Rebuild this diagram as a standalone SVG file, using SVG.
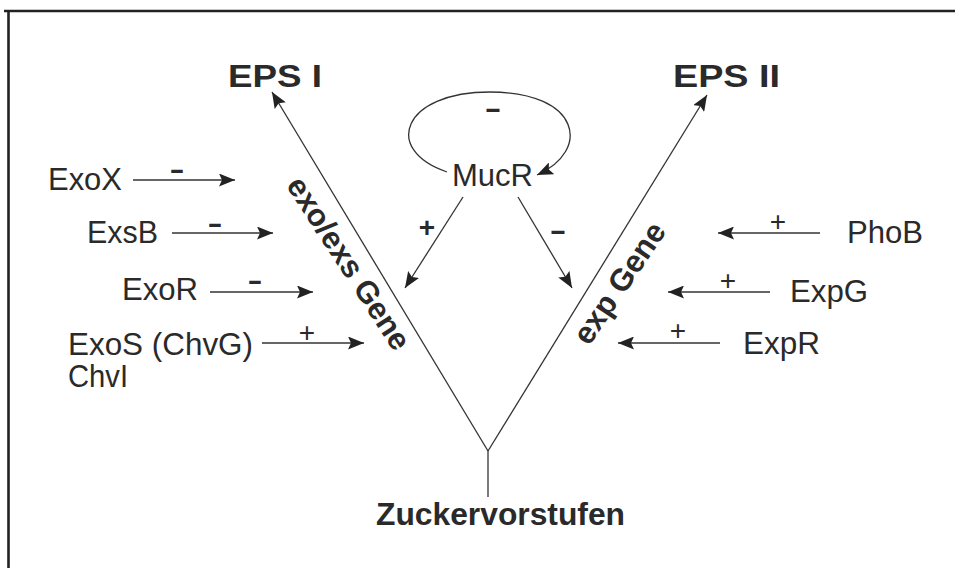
<svg xmlns="http://www.w3.org/2000/svg" width="955" height="568" viewBox="0 0 955 568">
<defs>
<style>
.lbl{font-family:"Liberation Sans",Arial,sans-serif;font-size:31px;fill:#2a2a2a}
.bold{font-weight:bold}
.sign{font-family:"Liberation Sans",Arial,sans-serif;font-size:28px;fill:#2a2a2a;text-anchor:middle}
.edge{fill:none;stroke:#333;stroke-width:1.3}
</style>
<marker id="ah" markerUnits="userSpaceOnUse" markerWidth="17" markerHeight="13" refX="16" refY="6.5" orient="auto">
<path d="M0,0 L16,6.5 L0,13 L3,6.5 Z" fill="#222"/>
</marker>
</defs>
<rect width="955" height="568" fill="#fff"/>
<path d="M4,11 H955 M8.5,11 V568" fill="none" stroke="#222" stroke-width="2.6"/>

<g id="eps1"><text class="lbl bold" x="228" y="87" font-size="33" textLength="94" lengthAdjust="spacingAndGlyphs">EPS I</text></g>
<g id="eps2"><text class="lbl bold" x="673" y="87" font-size="33" textLength="107" lengthAdjust="spacingAndGlyphs">EPS II</text></g>
<g id="mucr"><text class="lbl" x="452" y="186" textLength="81" lengthAdjust="spacingAndGlyphs">MucR</text></g>
<g id="exox"><text class="lbl" x="48" y="190" textLength="74" lengthAdjust="spacingAndGlyphs">ExoX</text></g>
<g id="exsb"><text class="lbl" x="87" y="243" textLength="71" lengthAdjust="spacingAndGlyphs">ExsB</text></g>
<g id="exor"><text class="lbl" x="122" y="300" textLength="76" lengthAdjust="spacingAndGlyphs">ExoR</text></g>
<g id="exos"><text class="lbl" x="68" y="355" textLength="185" lengthAdjust="spacingAndGlyphs">ExoS (ChvG)</text>
<text class="lbl" x="68" y="387" textLength="60" lengthAdjust="spacingAndGlyphs">ChvI</text></g>
<g id="phob"><text class="lbl" x="847" y="243" textLength="76" lengthAdjust="spacingAndGlyphs">PhoB</text></g>
<g id="expg"><text class="lbl" x="790" y="302" textLength="78" lengthAdjust="spacingAndGlyphs">ExpG</text></g>
<g id="expr"><text class="lbl" x="743" y="354" textLength="77" lengthAdjust="spacingAndGlyphs">ExpR</text></g>
<g id="zucker"><text class="lbl bold" x="376" y="525" textLength="249" lengthAdjust="spacingAndGlyphs">Zuckervorstufen</text></g>

<g id="connectors">
<path class="edge" d="M488,451 L272,92" marker-end="url(#ah)"/>
<path class="edge" d="M488,451 L707,95" marker-end="url(#ah)"/>
<path class="edge" d="M488,451 V497"/>
<path class="edge" d="M447,172 C382,150 402,92 490,92 C580,92 592,150 537,175" marker-end="url(#ah)"/>
<path class="edge" d="M463,197 L405,288" marker-end="url(#ah)"/>
<path class="edge" d="M518,197 L572,288" marker-end="url(#ah)"/>
<path class="edge" d="M133,180 H235" marker-end="url(#ah)"/>
<path class="edge" d="M172,233 H273" marker-end="url(#ah)"/>
<path class="edge" d="M210,292 H313" marker-end="url(#ah)"/>
<path class="edge" d="M262,343 H364" marker-end="url(#ah)"/>
<path class="edge" d="M820,233 H718" marker-end="url(#ah)"/>
<path class="edge" d="M770,292 H668" marker-end="url(#ah)"/>
<path class="edge" d="M720,343 H618" marker-end="url(#ah)"/>

<text class="lbl bold" transform="translate(340,269) rotate(57)" text-anchor="middle" font-size="29">exo/exs Gene</text>
<text class="lbl bold" transform="translate(628,289) rotate(-56)" text-anchor="middle" font-size="29">exp Gene</text>

<text class="sign bold" x="177" y="179" textLength="15" lengthAdjust="spacingAndGlyphs">-</text>
<text class="sign bold" x="215" y="233" textLength="15" lengthAdjust="spacingAndGlyphs">-</text>
<text class="sign bold" x="255" y="290" textLength="15" lengthAdjust="spacingAndGlyphs">-</text>
<text class="sign" x="307" y="342">+</text>
<text class="sign" x="778" y="231">+</text>
<text class="sign" x="728" y="290">+</text>
<text class="sign" x="678" y="340">+</text>
<text class="sign bold" x="427" y="237" font-size="30">+</text>
<text class="sign bold" x="558" y="240" font-size="32" textLength="17" lengthAdjust="spacingAndGlyphs">-</text>
<text class="sign bold" x="493" y="118" font-size="32" textLength="17" lengthAdjust="spacingAndGlyphs">-</text>
</g>
</svg>
